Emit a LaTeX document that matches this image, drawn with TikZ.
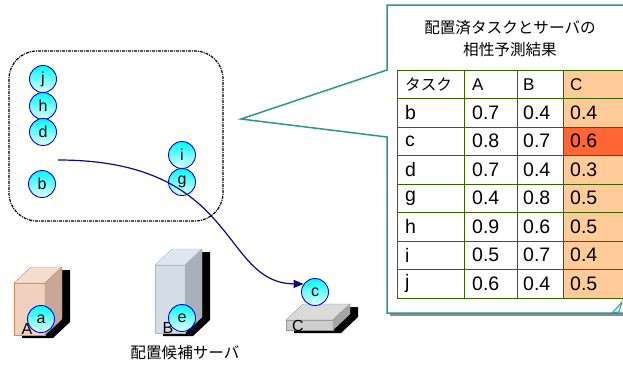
\documentclass[tikz,border=0pt]{standalone}
\usepackage{fontspec}
\setmainfont{Liberation Sans}
\newfontfamily\jp{Noto Sans CJK JP}
\usetikzlibrary{arrows.meta}

\definecolor{calloutline}{RGB}{40,150,150}
\definecolor{gridline}{RGB}{55,100,0}
\definecolor{cbg}{RGB}{255,204,153}
\definecolor{chot}{RGB}{255,102,51}
\definecolor{flowline}{RGB}{10,10,130}
% server colours
\definecolor{srva-front}{RGB}{240,208,192}
\definecolor{srva-top}{RGB}{244,220,208}
\definecolor{srva-side}{RGB}{198,168,152}
\definecolor{srva-edge}{RGB}{225,135,80}
\definecolor{srvb-front}{RGB}{211,221,232}
\definecolor{srvb-top}{RGB}{222,230,239}
\definecolor{srvb-side}{RGB}{168,176,186}
\definecolor{srvb-edge}{RGB}{160,185,210}
\definecolor{srvc-front}{RGB}{205,205,205}
\definecolor{srvc-top}{RGB}{218,218,218}
\definecolor{srvc-side}{RGB}{165,165,165}
\definecolor{srvc-edge}{RGB}{150,150,150}

\begin{document}
\begin{tikzpicture}[x=1pt, y=-1pt,
    task/.style={circle, draw=blue, line width=0.9pt, top color=cyan, bottom color=cyan!10, minimum size=27pt, inner sep=0pt, font=\fontsize{16}{16}\selectfont},
    flow/.style={-{Triangle[length=10pt,width=8pt]}, line width=1.2pt, draw=flowline},
    group/.style={draw, dash pattern=on 3pt off 1pt on 1pt off 1pt, line width=1.2pt, rounded corners=28pt},
    cell/.style={anchor=west, inner sep=0pt, font=\fontsize{19.5}{19.5}\selectfont},
    head/.style={anchor=west, inner sep=0pt, font=\fontsize{17}{17}\selectfont},
    srvlabel/.style={inner sep=0pt, font=\fontsize{16}{16}\selectfont},
    jptext/.style={font=\jp\fontsize{15.6}{22}\selectfont, align=center},
]

\useasboundingbox (0,0) rectangle (623,364);
\clip (0,0) rectangle (623,364);

% Callout with shadow
\fill[black!45] (390,8) rectangle (628,316);
\draw[calloutline, line width=1.5pt, fill=white] (387,5) -- (387,70) -- (241,119) -- (387,137) -- (387,313) -- (628,313) -- (628,5) -- cycle;
\filldraw[fill=calloutline!25, draw=calloutline, line width=0.8pt] (612,313) -- (622,302) -- (619,312) -- cycle;

\node[jptext] (title) at (510,39) {配置済タスクとサーバの\\相性予測結果};

% Table
\fill[cbg] (563,70) rectangle (628,298);
\fill[chot] (563,127) rectangle (628,155.5);
\foreach \r in {0,...,8}
  \draw[gridline, line width=0.9pt] (397,70+28.5*\r) -- (628,70+28.5*\r);
\foreach \cx in {397,464,517,563}
  \draw[gridline, line width=0.9pt] (\cx,70) -- (\cx,298);

\node[head, font=\jp\fontsize{15.6}{15.6}\selectfont] (h-task) at (405,84.25) {タスク};
\node[head] (h-a) at (472,84.25) {A};
\node[head] (h-b) at (523,84.25) {B};
\node[head] (h-c) at (570,84.25) {C};

\foreach \name/\va/\vb/\vc [count=\r] in {b/0.7/0.4/0.4, c/0.8/0.7/0.6, d/0.7/0.4/0.3, g/0.4/0.8/0.5, h/0.9/0.6/0.5, i/0.5/0.7/0.4, j/0.6/0.4/0.5} {
  \node[cell] (n-\r) at (405,84.25+28.5*\r) {\name};
  \node[cell] (a-\r) at (472,84.25+28.5*\r) {\va};
  \node[cell] (b-\r) at (523,84.25+28.5*\r) {\vb};
  \node[cell] (c-\r) at (570,84.25+28.5*\r) {\vc};
}

% Placed tasks
\draw[group] (9,51) rectangle (223,221);

% Candidate servers
\foreach \sx/\sy/\sw/\sh/\sc in {14/283/31/52/srva, 155/265/30/68/srvb, 286/320/47/10/srvc} {
  \fill[black, shift={(8,3)}] (\sx,\sy+\sh) -- (\sx,\sy) -- (\sx+17,\sy-16) -- (\sx+\sw+17,\sy-16) -- (\sx+\sw+17,\sy+\sh-16) -- (\sx+\sw,\sy+\sh) -- cycle;
  \filldraw[fill=\sc-front, draw=\sc-edge] (\sx,\sy) rectangle (\sx+\sw,\sy+\sh);
  \filldraw[fill=\sc-top, draw=\sc-edge] (\sx,\sy) -- (\sx+17,\sy-16) -- (\sx+\sw+17,\sy-16) -- (\sx+\sw,\sy) -- cycle;
  \filldraw[fill=\sc-side, draw=\sc-edge] (\sx+\sw,\sy) -- (\sx+\sw+17,\sy-16) -- (\sx+\sw+17,\sy+\sh-16) -- (\sx+\sw,\sy+\sh) -- cycle;
}
\node[srvlabel] (srv-a) at (27,329) {A};
\node[srvlabel] (srv-b) at (168,328) {B};
\node[srvlabel] (srv-c) at (298,326) {C};
\node[jptext] (servers) at (185,353) {配置候補サーバ};

% Tasks
\node[task] (j) at (43,79) {j};
\node[task] (h) at (43,106) {h};
\node[task] (d) at (43,132) {d};
\node[task] (b) at (42,184) {b};
\node[task] (i) at (182,155) {i};
\node[task] (g) at (182,182) {g};
\node[task] (a) at (41,319) {a};
\node[task] (e) at (182,318) {e};
\node[task] (c) at (315,292) {c};

% Migration
\coordinate (from) at (58,160);
\draw[flow] (from) .. controls (240,160) and (220,283) .. (c.145);

\end{tikzpicture}
\end{document}
